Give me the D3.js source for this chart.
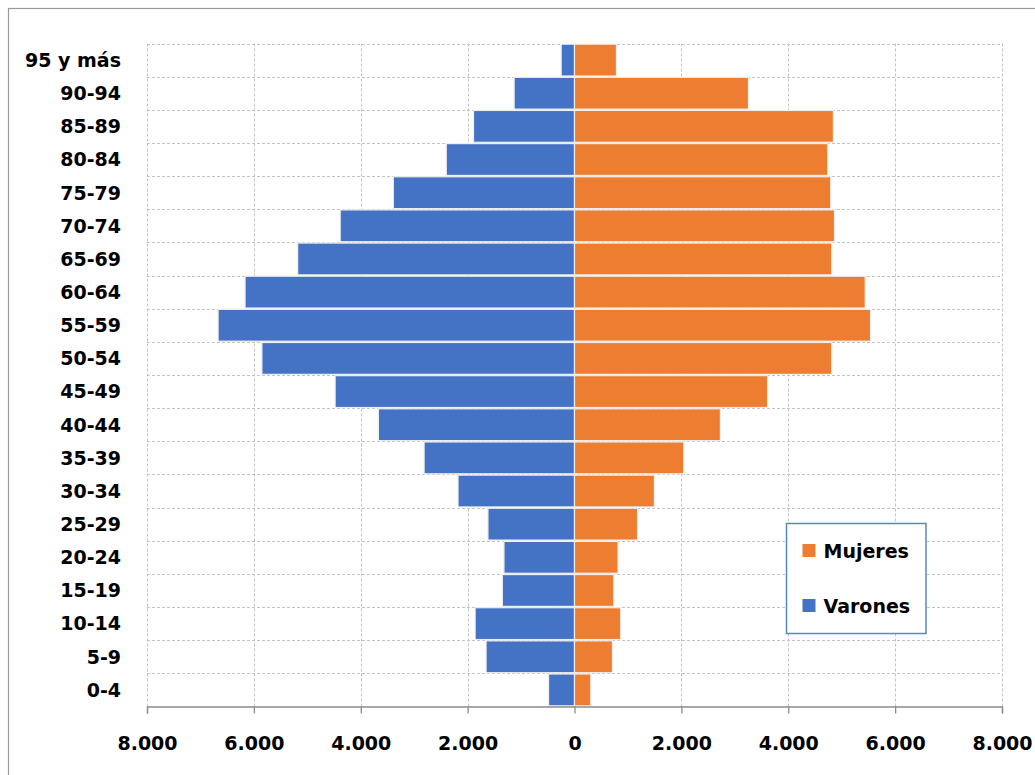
<!DOCTYPE html>
<html lang="es">
<head>
    <meta charset="UTF-8">
    <title>Pirámide de población</title>
    <style>
        body { margin: 0; background: #fff; }
        svg text { font-family: "DejaVu Sans", sans-serif; font-weight: bold; fill: #000; }
    </style>
</head>
<body>
<script src="https://cdn.jsdelivr.net/npm/d3@7"></script>
<script type="text/javascript">
    // grupos de edad, de arriba hacia abajo
    var ageGroups = ["95 y más", "90-94", "85-89", "80-84", "75-79", "70-74", "65-69", "60-64", "55-59", "50-54",
        "45-49", "40-44", "35-39", "30-34", "25-29", "20-24", "15-19", "10-14", "5-9", "0-4"];
    var varones = [250, 1130, 1890, 2400, 3390, 4385, 5180, 6165, 6670, 5850,
        4480, 3670, 2815, 2180, 1620, 1320, 1350, 1860, 1655, 485];
    var mujeres = [785, 3255, 4845, 4740, 4795, 4865, 4815, 5440, 5540, 4815,
        3615, 2730, 2045, 1495, 1180, 815, 735, 865, 710, 305];
    var xTicks = [-8000, -6000, -4000, -2000, 0, 2000, 4000, 6000, 8000];
    var seriesNames = ["Mujeres", "Varones"];
    var seriesColors = ["#ED7D31", "#4472C4"];

    var w = 1035, h = 775;
    var pLeft = 147, pRight = 1002, pTop = 43.5, pBottom = 706.5;

    var svg = d3.select("body").append("svg")
        .attr("width", w)
        .attr("height", h);

    // marco exterior
    svg.append("rect")
        .attr("x", 8.5).attr("y", 8.5)
        .attr("width", 1100).attr("height", 900)
        .attr("fill", "none")
        .attr("stroke", "#9a9a9a")
        .attr("stroke-width", 1.2);

    var xScale = d3.scaleLinear().domain([-8000, 8000]).range([pLeft, pRight]);
    var yScale = d3.scaleBand().domain(ageGroups).range([pTop, pBottom]).paddingInner(0.04).paddingOuter(0.02);

    // rejilla vertical
    svg.selectAll("line.vgrid").data(xTicks).enter().append("line")
        .attr("class", "vgrid")
        .attr("x1", function (d) { return Math.round(xScale(d)) + 0.5; })
        .attr("x2", function (d) { return Math.round(xScale(d)) + 0.5; })
        .attr("y1", pTop).attr("y2", pBottom)
        .attr("stroke", "#c4c4c4")
        .attr("stroke-dasharray", "3,2");

    // rejilla horizontal, en los bordes de cada banda
    var hLines = d3.range(ageGroups.length).map(function (i) { return pTop + i * (pBottom - pTop) / ageGroups.length; });
    svg.selectAll("line.hgrid").data(hLines).enter().append("line")
        .attr("class", "hgrid")
        .attr("x1", pLeft).attr("x2", pRight)
        .attr("y1", function (d) { return Math.round(d) + 0.5; })
        .attr("y2", function (d) { return Math.round(d) + 0.5; })
        .attr("stroke", "#c4c4c4")
        .attr("stroke-dasharray", "3,2");

    // barras varones (izquierda)
    svg.selectAll("rect.varon").data(varones).enter().append("rect")
        .attr("class", "varon")
        .attr("x", function (d) { return xScale(-d); })
        .attr("y", function (d, i) { return yScale(ageGroups[i]); })
        .attr("width", function (d) { return xScale(0) - xScale(-d); })
        .attr("height", yScale.bandwidth())
        .attr("fill", seriesColors[1])
        .attr("stroke", "#eeeeee")
        .attr("stroke-width", 1.2);

    // barras mujeres (derecha)
    svg.selectAll("rect.mujer").data(mujeres).enter().append("rect")
        .attr("class", "mujer")
        .attr("x", xScale(0))
        .attr("y", function (d, i) { return yScale(ageGroups[i]); })
        .attr("width", function (d) { return xScale(d) - xScale(0); })
        .attr("height", yScale.bandwidth())
        .attr("fill", seriesColors[0])
        .attr("stroke", "#eeeeee")
        .attr("stroke-width", 1.2);

    // eje x
    var xAxis = d3.axisBottom(xScale)
        .tickValues(xTicks)
        .tickSize(7)
        .tickFormat(function (d) { return d3.format(",")(Math.abs(d)).replace(/,/g, "."); });
    var gx = svg.append("g")
        .attr("transform", "translate(0," + pBottom + ")")
        .call(xAxis);
    gx.select(".domain").attr("stroke", "#8c8c8c").attr("stroke-width", 1.3);
    gx.selectAll(".tick line").attr("stroke", "#8c8c8c").attr("stroke-width", 1.3);
    gx.selectAll(".tick text")
        .attr("y", 0)
        .attr("dy", 0)
        .attr("transform", "translate(0,43)")
        .style("font-size", "19px");

    // eje y (solo etiquetas)
    var yAxis = d3.axisLeft(yScale).tickSize(0).tickPadding(26);
    var gy = svg.append("g")
        .attr("transform", "translate(" + pLeft + ",0)")
        .call(yAxis);
    gy.select(".domain").remove();
    gy.selectAll(".tick text")
        .attr("dy", "0.36em")
        .style("font-size", "19px");

    // leyenda
    var legend = svg.append("g").attr("transform", "translate(786.5,523.5)");
    legend.append("rect")
        .attr("width", 139.5).attr("height", 110)
        .attr("fill", "#fff")
        .attr("stroke", "#5a86c8")
        .attr("stroke-width", 1.5);
    var items = legend.selectAll("g.item").data(seriesNames).enter().append("g")
        .attr("class", "item")
        .attr("transform", function (d, i) { return "translate(16," + (20.5 + i * 55) + ")"; });
    items.append("rect")
        .attr("width", 13).attr("height", 13)
        .attr("fill", function (d, i) { return seriesColors[i]; });
    items.append("text")
        .attr("x", 21).attr("y", 14)
        .style("font-size", "19px")
        .text(function (d) { return d; });
</script>
</body>
</html>
